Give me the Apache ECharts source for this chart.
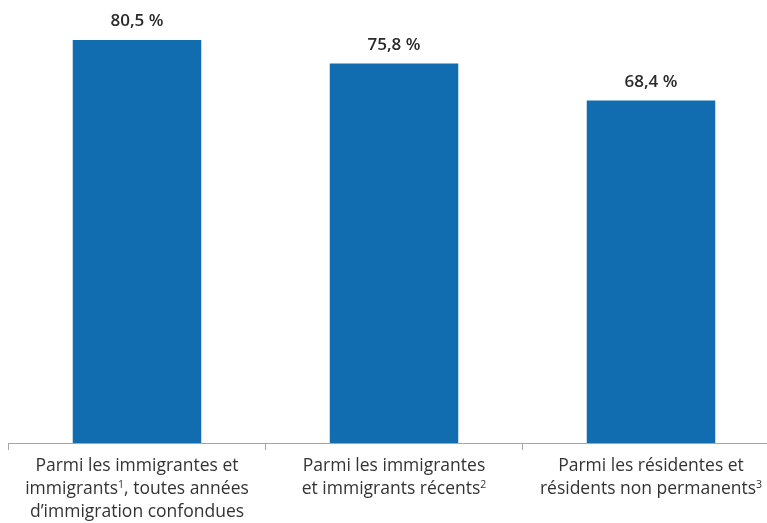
<!DOCTYPE html>
<html>
<head>
<meta charset="utf-8">
<script src="https://cdn.jsdelivr.net/npm/echarts@6/dist/echarts.min.js"></script>
<style>
  html, body { margin: 0; padding: 0; background: #ffffff; }
  #chart { width: 767px; height: 523px; }
</style>
</head>
<body>
<div id="chart"></div>
<script>
// Category labels, one string per bar; {sup|n} marks a footnote reference
const categories = [
  "Parmi les immigrantes et\nimmigrants{sup|1}, toutes années\nd’immigration confondues",
  "Parmi les immigrantes\net immigrants récents{sup|2}",
  "Parmi les résidentes et\nrésidents non permanents{sup|3}"
];
// Share (%) for each group
const values = [80.5, 75.8, 68.4];

const FONT = '"Open Sans", "Noto Sans", sans-serif';
const chart = echarts.init(document.getElementById('chart'), null, { renderer: 'canvas' });

chart.setOption({
  animation: false,
  grid: { left: 8.5, width: 771, top: 17.5, height: 425.5, containLabel: false, outerBoundsMode: 'none' },
  xAxis: {
    type: 'category',
    data: categories,
    axisLine: { show: true, lineStyle: { color: '#a6a6a6', width: 1 } },
    axisTick: { show: true, alignWithLabel: false, length: 7, lineStyle: { color: '#a6a6a6' } },
    axisLabel: {
      interval: 0,
      margin: 12,
      color: '#333333',
      fontFamily: FONT,
      fontSize: 17.5,
      lineHeight: 23,
      align: 'center',
      hideOverlap: false,
      rich: {
        sup: { fontSize: 10.5, padding: [0, 0, 9, 0], color: '#333333', fontFamily: FONT }
      }
    }
  },
  yAxis: {
    type: 'value',
    min: 0,
    max: 85,
    show: false,
    splitLine: { show: false }
  },
  series: [{
    type: 'bar',
    data: values,
    barWidth: '50%',
    itemStyle: { color: '#116db0' },
    label: {
      show: true,
      position: 'top',
      distance: 10,
      color: '#2a2a2a',
      fontFamily: FONT,
      fontWeight: 600,
      fontSize: 17,
      formatter: p => p.value.toFixed(1).replace('.', ',') + ' %'
    }
  }]
});
</script>
</body>
</html>
